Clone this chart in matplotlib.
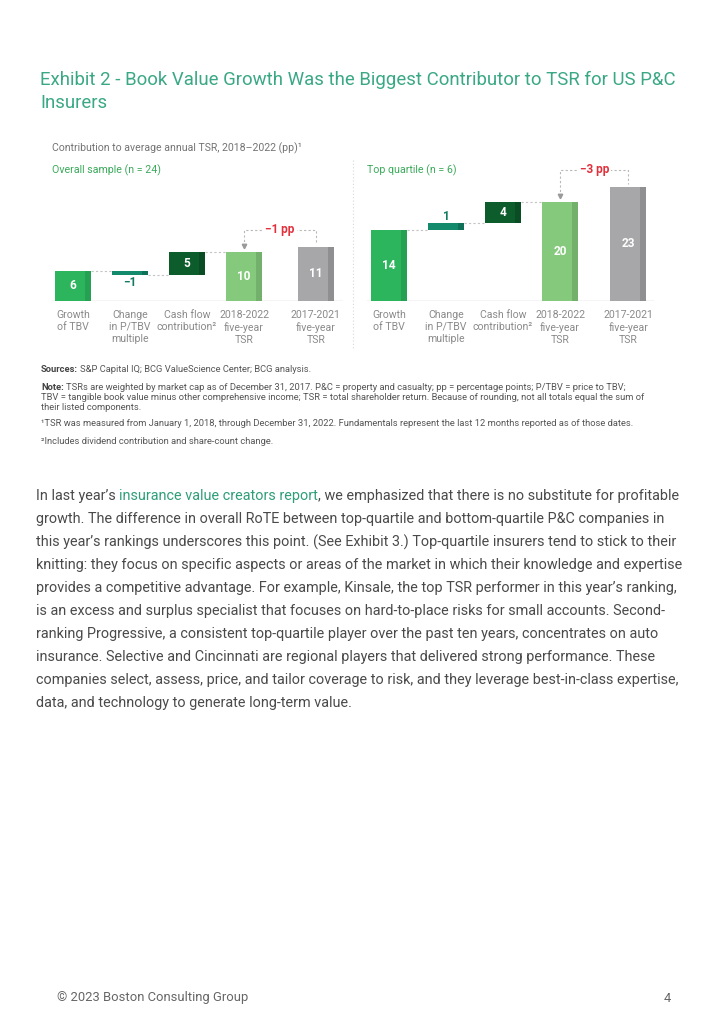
import matplotlib
matplotlib.use('Agg')
import matplotlib.pyplot as plt
from matplotlib.lines import Line2D

W, H = 724, 1024
plt.rcParams['font.family'] = ['Liberation Sans Narrow', 'Roboto', 'DejaVu Sans']

# ---------------- data ----------------
categories = ["Growth\nof TBV", "Change\nin P/TBV\nmultiple", "Cash flow\ncontribution²",
              "2018-2022\nfive-year\nTSR", "2017-2021\nfive-year\nTSR"]
overall_steps = [6.1, -0.9, 4.7]
overall_totals = [9.9, 10.9]
overall_diff = "−1 pp"
top_steps = [14.4, 1.4, 4.2]
top_totals = [20.0, 23.0]
top_diff = "−3 pp"
panel_titles = ["Overall sample (n = 24)", "Top quartile (n = 6)"]

title_lines = ["Exhibit 2 - Book Value Growth Was the Biggest Contributor to TSR for US P&C",
               "Insurers"]
chart_subtitle = "Contribution to average annual TSR, 2018–2022 (pp)¹"
sources = ("Sources:", "S&P Capital IQ; BCG ValueScience Center; BCG analysis.")
note_lines = [("Note:", "TSRs are weighted by market cap as of December 31, 2017. P&C = property and casualty; pp = percentage points; P/TBV = price to TBV;"),
              ("", "TBV = tangible book value minus other comprehensive income; TSR = total shareholder return. Because of rounding, not all totals equal the sum of"),
              ("", "their listed components.")]
footnotes = ["¹TSR was measured from January 1, 2018, through December 31, 2022. Fundamentals represent the last 12 months reported as of those dates.",
             "²Includes dividend contribution and share-count change."]
body_lines = [
    "this year’s rankings underscores this point. (See Exhibit 3.) Top-quartile insurers tend to stick to their",
    "knitting: they focus on specific aspects or areas of the market in which their knowledge and expertise",
    "provides a competitive advantage. For example, Kinsale, the top TSR performer in this year’s ranking,",
    "is an excess and surplus specialist that focuses on hard-to-place risks for small accounts. Second-",
    "ranking Progressive, a consistent top-quartile player over the past ten years, concentrates on auto",
    "insurance. Selective and Cincinnati are regional players that delivered strong performance. These",
    "companies select, assess, price, and tailor coverage to risk, and they leverage best-in-class expertise,",
    "data, and technology to generate long-term value.",
]
body_first = ("In last year’s", "insurance value creators report",
              ", we emphasized that there is no substitute for profitable")
body_second = "growth. The difference in overall RoTE between top-quartile and bottom-quartile P&C companies in"
footer_left = "© 2023 Boston Consulting Group"
footer_right = "4"

# ---------------- styles ----------------
main_cols = ['#2db55d', '#138a6c', '#0d5c2c', '#84c97c', '#a7a7a9']
strip_cols = ['#26a052', '#0f7258', '#0a4c24', '#72b06c', '#8f8f91']
TEAL = '#3aa885'
GREEN_T = '#3aaa5a'
RED = '#e0313c'
GREY_TXT = '#8a8a8a'
BODY = '#4a4a4a'

fig = plt.figure(figsize=(W / 100, H / 100), dpi=100)
fig.patch.set_facecolor('white')
R = fig.canvas.get_renderer()


def fx(x):
    return x / W


def fy(y):
    return 1 - y / H


def wpx(t):
    return t.get_window_extent(renderer=R).width


def fit_size(s, target, weight='normal', probe=10):
    t = fig.text(0, 0, s, fontsize=probe, fontweight=weight)
    w = wpx(t)
    t.remove()
    return probe * target / w


def space_w(fs, weight='normal'):
    a = fig.text(0, 0, "a a", fontsize=fs, fontweight=weight)
    b = fig.text(0, 0, "aa", fontsize=fs, fontweight=weight)
    w = wpx(a) - wpx(b)
    a.remove(); b.remove()
    return w


def runs(x, y, parts, fs):
    sp = space_w(fs)
    for s, c, wt in parts:
        if s.startswith(" "):
            x += sp
            s = s.lstrip(" ")
        if not s:
            continue
        t = fig.text(fx(x), fy(y), s, fontsize=fs, color=c, fontweight=wt,
                     va='center', ha='left')
        x += wpx(t)
    return x


# ---------------- title ----------------
fs_title = fit_size(title_lines[0], 638)
for i, line in enumerate(title_lines):
    fig.text(fx(40), fy(80 + 23 * i), line, fontsize=fs_title, color=TEAL, va='center')

# ---------------- chart header ----------------
fs_head = fit_size(chart_subtitle, 249)
fig.text(fx(52), fy(148), chart_subtitle, fontsize=fs_head, color='#747474', va='center')
fs_pt = fit_size(panel_titles[0], 109)
fig.text(fx(52), fy(170), panel_titles[0], fontsize=fs_pt, color=GREEN_T, va='center')
fig.text(fx(367), fy(170), panel_titles[1], fontsize=fs_pt, color=GREEN_T, va='center')

# ---------------- panels ----------------
PXU = 4.96  # pixels per unit
BASE = 301
TOP = 160
SLOT = 57.0
BW = 36 / SLOT


def draw_panel(left_px, right_px, c0_px, last_pos, steps, totals, diff):
    positions = [0, 1, 2, 3, last_pos]
    ax = fig.add_axes([fx(left_px), fy(BASE), (right_px - left_px) / W, (BASE - TOP) / H])
    ax.set_xlim((left_px - c0_px) / SLOT, (right_px - c0_px) / SLOT)
    ax.set_ylim(0, (BASE - TOP) / PXU)
    ax.axis('off')
    px = lambda p: p / PXU

    bottoms, heights = [], []
    cum = 0
    for v in steps:
        bottoms.append(cum if v >= 0 else cum + v)
        heights.append(abs(v))
        cum += v
    for v in totals:
        bottoms.append(0)
        heights.append(v)
    values = list(steps) + list(totals)
    sw = BW * 0.17
    for i, p in enumerate(positions):
        ax.bar(p, heights[i], width=BW, bottom=bottoms[i], color=main_cols[i], zorder=3)
        ax.bar(p + BW / 2 - sw / 2, heights[i], width=sw, bottom=bottoms[i],
               color=strip_cols[i], zorder=3)
        lab = f"{round(values[i])}".replace("-", "−")
        if i == 1:
            if values[i] < 0:
                ax.text(p, bottoms[i] - px(7.5), lab, ha='center', va='center',
                        fontsize=8.5, fontweight='bold', color='#127a60', zorder=4)
            else:
                ax.text(p, bottoms[i] + heights[i] + px(6.5), lab, ha='center', va='center',
                        fontsize=8.5, fontweight='bold', color='#127a60', zorder=4)
        else:
            ax.text(p, bottoms[i] + heights[i] / 2, lab, ha='center', va='center',
                    fontsize=8.5, fontweight='bold', color='white', zorder=4)
        ax.text(p, -px(8.5), categories[i], ha='center', va='top', fontsize=fs_head,
                color=GREY_TXT, linespacing=1.3, clip_on=False)

    # connectors
    cum = 0
    for i in range(3):
        cum += values[i]
        ax.plot([positions[i] + BW / 2, positions[i + 1] - BW / 2], [cum, cum],
                color='#c4c4c4', lw=0.8, ls=(0, (2, 2)), zorder=2)

    # baseline
    ax.axhline(0, color='#d0d0d0', lw=1.0, zorder=1)

    # bracket
    x4, x5 = positions[3], positions[4]
    ybr = max(totals) + px(17)
    ax.plot([x4, x4, x5, x5], [totals[0] + px(6), ybr, ybr, totals[1] + px(3)],
            color='#b8b8b8', lw=0.8, ls=(0, (2, 2)), zorder=2, clip_on=False)
    ax.plot([x4], [totals[0] + px(5.5)], marker='v', ms=3.2, color='#9a9a9a',
            zorder=3, clip_on=False)
    ax.text((x4 + x5) / 2, ybr, diff, ha='center', va='center', fontsize=8.5,
            fontweight='bold', color=RED, zorder=4,
            bbox=dict(facecolor='white', edgecolor='none', pad=1.5), clip_on=False)
    return ax


draw_panel(52, 343, 73, 4.26, overall_steps, overall_totals, overall_diff)
draw_panel(367, 654, 389, 4.2, top_steps, top_totals, top_diff)

# separator
fig.add_artist(Line2D([fx(353), fx(353)], [fy(160), fy(350)], color='#d8d8d8',
                      lw=0.8, ls=(0, (1, 2))))

# ---------------- sources & notes ----------------
fs_note = fit_size(footnotes[0], 594)
runs(41, 370, [(sources[0], '#444444', 'bold'), (" " + sources[1], '#555555', 'normal')], fs_note)
for i, (b, s) in enumerate(note_lines):
    y = 388 + 9.6 * i
    if b:
        runs(41, y, [(b, '#444444', 'bold'), (" " + s, '#555555', 'normal')], fs_note)
    else:
        runs(41, y, [(s, '#555555', 'normal')], fs_note)
for i, s in enumerate(footnotes):
    runs(41, 424 + 17 * i, [(s, '#555555', 'normal')], fs_note)

# ---------------- body ----------------
fs_body = fit_size(body_lines[0], 641)
runs(36, 496, [(body_first[0], BODY, 'normal'), (" " + body_first[1], '#2e9e78', 'normal'),
               (body_first[2], BODY, 'normal')], fs_body)
runs(36, 519, [(body_second, BODY, 'normal')], fs_body)
for i, s in enumerate(body_lines):
    runs(36, 542 + 23 * i, [(s, BODY, 'normal')], fs_body)

# ---------------- footer ----------------
fs_foot = fit_size(footer_left, 191)
fig.text(fx(57), fy(998), footer_left, fontsize=fs_foot, color='#666666', va='center')
fig.text(fx(671), fy(998), footer_right, fontsize=fs_foot, color='#666666', va='center', ha='right')

fig.savefig('out.png', dpi=100, facecolor='white')
